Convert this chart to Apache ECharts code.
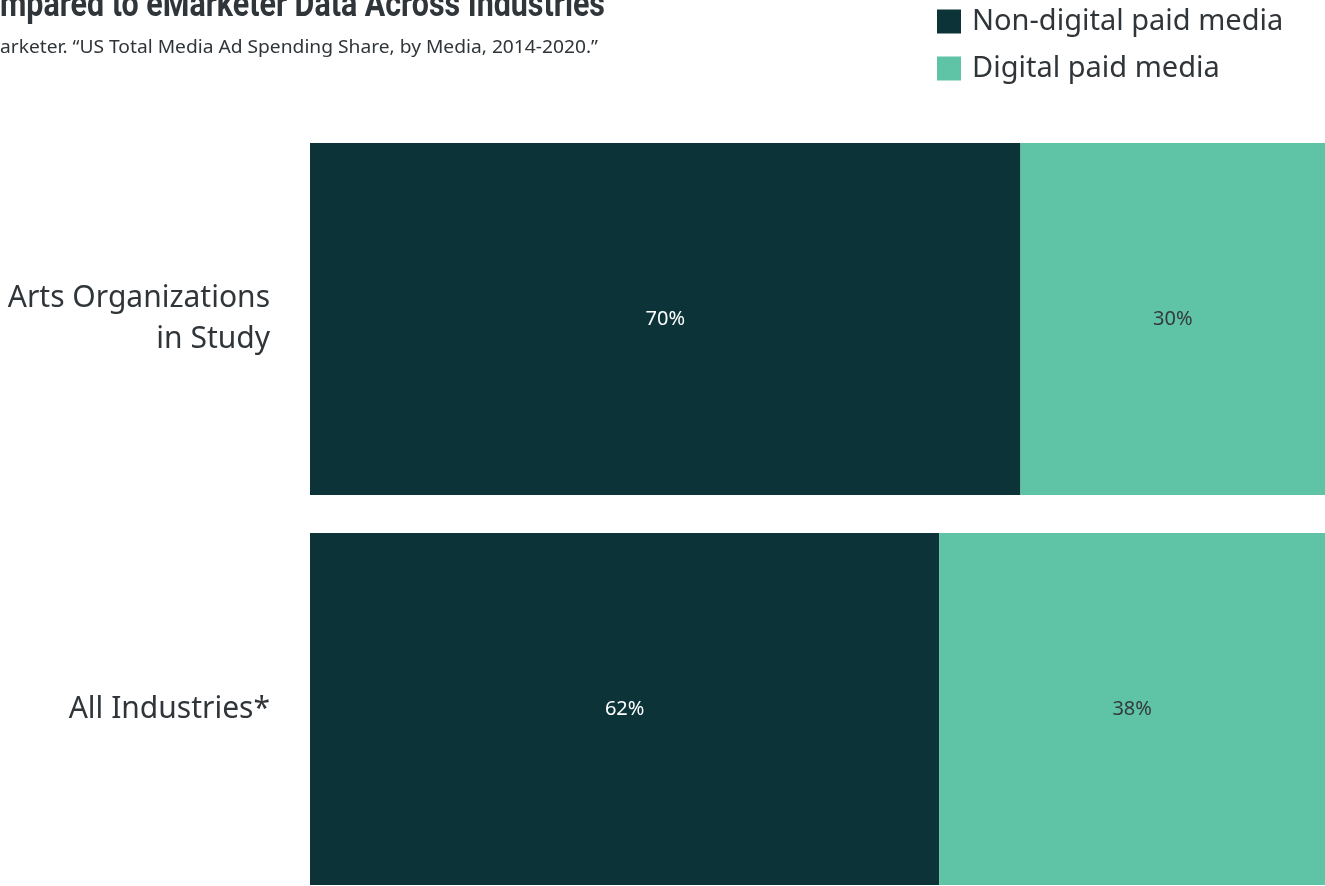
<!DOCTYPE html>
<html>
<head>
<meta charset="utf-8">
<style>
  html, body { margin: 0; padding: 0; background: #ffffff; overflow: hidden; }
  /* the plot runs slightly past the bottom edge of the page */
  #chart { width: 1325px; height: 904px; }
</style>
<script src="https://cdn.jsdelivr.net/npm/echarts@6/dist/echarts.min.js"></script>
</head>
<body>
<div id="chart"></div>
<script>
// Share of paid media spending, in percent
const categories = ['Arts Organizations\nin Study', 'All Industries*'];
const seriesNames = ['Non-digital paid media', 'Digital paid media'];
const nonDigital = [70, 62];
const digital = [30, 38];

const titleText = 'Compared to eMarketer Data Across Industries';
const subtitleText = 'Source: eMarketer. \u201CUS Total Media Ad Spending Share, by Media, 2014-2020.\u201D';

const DARK = '#0b3338';
const LIGHT = '#5fc3a5';
const TEXT = '#2f3539';
const FONT = '"Noto Sans", "Open Sans", sans-serif';
const TITLE_FONT = 'bold 36px Roboto, sans-serif';
const SUB_FONT = '18px "Noto Sans", sans-serif';

// Horizontal squeeze so the title reads as a condensed face
function textWidth(str, font) {
  const ctx = document.createElement('canvas').getContext('2d');
  ctx.font = font;
  return ctx.measureText(str).width;
}
const titleScale = 605 / textWidth('mpared to eMarketer Data Across Industries', TITLE_FONT);
const subScale = 598 / textWidth('arketer. \u201CUS Total Media Ad Spending Share, by Media, 2014-2020.\u201D', SUB_FONT);

const chart = echarts.init(document.getElementById('chart'), null, { renderer: 'canvas' });

chart.setOption({
  animation: false,
  backgroundColor: '#ffffff',
  textStyle: { fontFamily: FONT },
  graphic: [
    {
      type: 'text', x: 605, y: 7, scaleX: titleScale,
      style: {
        text: titleText, fill: TEXT, font: TITLE_FONT,
        align: 'right', verticalAlign: 'middle'
      }
    },
    {
      type: 'text', x: 598, y: 48, scaleX: subScale,
      style: {
        text: subtitleText, fill: TEXT, font: SUB_FONT,
        align: 'right', verticalAlign: 'middle'
      }
    }
  ],
  legend: {
    orient: 'vertical',
    left: 937, top: 7, padding: 0,
    icon: 'rect',
    itemWidth: 24, itemHeight: 24,
    itemGap: 18,
    data: seriesNames,
    textStyle: { color: TEXT, fontSize: 29, fontFamily: FONT, padding: [0, 0, 0, 6] }
  },
  grid: { left: 310, width: 1016, top: 124, bottom: 0, containLabel: false },
  xAxis: {
    type: 'value', min: 0, max: 100,
    show: false
  },
  yAxis: {
    type: 'category', data: categories, inverse: true,
    axisLine: { show: false }, axisTick: { show: false },
    axisLabel: {
      margin: 40, align: 'right',
      color: TEXT, fontSize: 30, lineHeight: 41, fontFamily: FONT,
      padding: [0, 0, 4, 0]
    }
  },
  series: [
    {
      name: seriesNames[0], type: 'bar', stack: 'share',
      data: nonDigital, barWidth: 352,
      itemStyle: { color: DARK },
      label: { show: true, position: 'inside', formatter: '{c}%', color: '#ffffff', fontSize: 20, fontFamily: FONT }
    },
    {
      name: seriesNames[1], type: 'bar', stack: 'share',
      data: digital, barWidth: 352,
      itemStyle: { color: LIGHT },
      label: { show: true, position: 'inside', formatter: '{c}%', color: '#333a3d', fontSize: 20, fontFamily: FONT }
    }
  ]
});
</script>
</body>
</html>
